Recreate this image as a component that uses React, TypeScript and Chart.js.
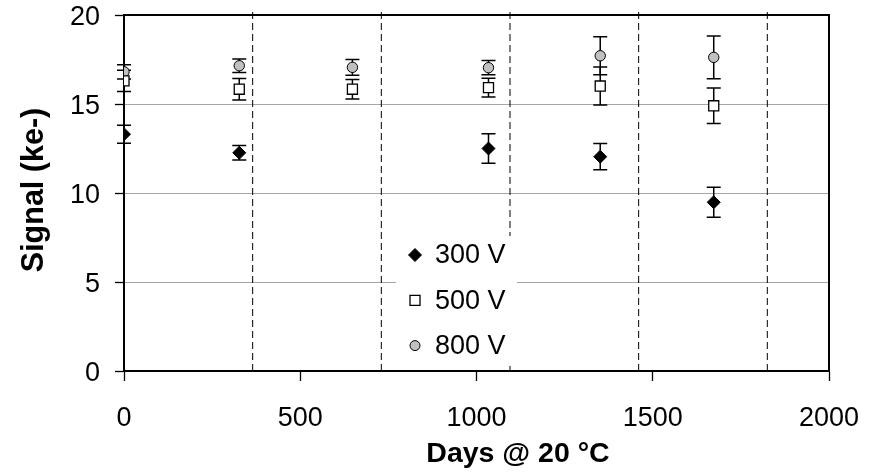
import { useEffect, useRef } from "react";
import { Chart, registerables } from "chart.js";

Chart.register(...registerables);

const days = [0, 327, 648, 1034, 1351, 1673];
const signal300 = [13.3, 12.26, null, 12.5, 12.04, 9.48];
const err300 = [0.5, 0.41, null, 0.83, 0.74, 0.84];
const signal500 = [16.3, 15.83, 15.83, 15.92, 16.01, 14.9];
const err500 = [0.6, 0.6, 0.55, 0.53, 1.07, 1.0];
const signal800 = [16.81, 17.15, 17.06, 17.04, 17.71, 17.62];
const err800 = [0.4, 0.38, 0.44, 0.4, 1.07, 1.2];
const yearMarks = [365, 730, 1095, 1460, 1825];
const seriesLabels = ["300 V", "500 V", "800 V"];
const xTitle = "Days @ 20 °C";
const yTitle = "Signal (ke-)";
const xRange = [0, 2000];
const yRange = [0, 20];
const markTop = 20.3;

const FONT = "'Liberation Sans', Arial, sans-serif";

function points(vals: (number | null)[], errs: (number | null)[]) {
  const pts: { x: number; y: number; e: number }[] = [];
  vals.forEach((v, i) => {
    if (v !== null && v !== undefined) pts.push({ x: days[i], y: v, e: errs[i] as number });
  });
  return pts;
}

function drawMarker(ctx: CanvasRenderingContext2D, style: string, x: number, y: number) {
  ctx.save();
  ctx.strokeStyle = "#000";
  ctx.beginPath();
  if (style === "rectRot") {
    const r = 6.5;
    ctx.moveTo(x, y - r);
    ctx.lineTo(x + r, y);
    ctx.lineTo(x, y + r);
    ctx.lineTo(x - r, y);
    ctx.closePath();
    ctx.fillStyle = "#000";
    ctx.lineWidth = 1;
    ctx.fill();
    ctx.stroke();
  } else if (style === "rect") {
    const s = 5;
    ctx.rect(x - s, y - s, 2 * s, 2 * s);
    ctx.fillStyle = "#fff";
    ctx.lineWidth = 1.3;
    ctx.fill();
    ctx.stroke();
  } else {
    ctx.arc(x, y, 5, 0, Math.PI * 2);
    ctx.fillStyle = "#c0c0c0";
    ctx.lineWidth = 1;
    ctx.fill();
    ctx.stroke();
  }
  ctx.restore();
}

const errorBarPlugin = {
  id: "errorBars",
  beforeDatasetsDraw(chart: any) {
    const { ctx, scales } = chart;
    const xs = scales.x;
    const ys = scales.y;
    ctx.save();
    ctx.strokeStyle = "#000";
    ctx.lineWidth = 1.5;
    chart.data.datasets.forEach((ds: any) => {
      if (!ds.isSeries) return;
      ds.data.forEach((p: any) => {
        if (!p.e) return;
        const px = xs.getPixelForValue(p.x);
        const top = ys.getPixelForValue(p.y + p.e);
        const bot = ys.getPixelForValue(p.y - p.e);
        ctx.beginPath();
        ctx.moveTo(px, top);
        ctx.lineTo(px, bot);
        ctx.moveTo(px - 7, top);
        ctx.lineTo(px + 7, top);
        ctx.moveTo(px - 7, bot);
        ctx.lineTo(px + 7, bot);
        ctx.stroke();
      });
    });
    ctx.restore();
  },
};

const frameLegendPlugin = {
  id: "frameLegend",
  afterDraw(chart: any) {
    const { ctx, chartArea } = chart;
    ctx.save();
    ctx.strokeStyle = "#000";
    ctx.lineWidth = 2;
    ctx.beginPath();
    ctx.moveTo(chartArea.left, chartArea.top);
    ctx.lineTo(chartArea.right, chartArea.top);
    ctx.lineTo(chartArea.right, chartArea.bottom);
    ctx.stroke();

    // axis titles
    ctx.fillStyle = "#000";
    ctx.textAlign = "center";
    ctx.textBaseline = "middle";
    ctx.font = `bold 28.5px ${FONT}`;
    ctx.fillText(xTitle, 518, 454);
    ctx.save();
    ctx.translate(35, 190);
    ctx.rotate(-Math.PI / 2);
    ctx.font = `bold 30.5px ${FONT}`;
    ctx.fillText(yTitle, 0, 0);
    ctx.restore();

    // legend box inside plot
    const bx = 396;
    const by = 236;
    const bw = 121;
    const bh = 130;
    ctx.fillStyle = "#fff";
    ctx.fillRect(bx, by, bw, bh);
    const styles = ["rectRot", "rect", "circle"];
    ctx.font = `27px ${FONT}`;
    ctx.textBaseline = "middle";
    ctx.textAlign = "left";
    seriesLabels.forEach((lab, i) => {
      const cy = 255 + i * 45.3;
      drawMarker(ctx, styles[i], 415, cy);
      ctx.fillStyle = "#000";
      ctx.fillText(lab, 435, cy + 1);
    });
    ctx.restore();
  },
};

export default function App() {
  const ref = useRef<HTMLCanvasElement | null>(null);

  useEffect(() => {
    if (!ref.current) return;
    const seriesDefs = [
      { label: seriesLabels[0], data: points(signal300, err300), pointStyle: "rectRot", pointRadius: 6.5, pointBackgroundColor: "#000", pointBorderWidth: 1 },
      { label: seriesLabels[1], data: points(signal500, err500), pointStyle: "rect", pointRadius: 7.1, pointBackgroundColor: "#fff", pointBorderWidth: 1.3 },
      { label: seriesLabels[2], data: points(signal800, err800), pointStyle: "circle", pointRadius: 5.2, pointBackgroundColor: "#c0c0c0", pointBorderWidth: 1 },
    ].map((d) => ({
      ...d,
      isSeries: true,
      showLine: false,
      pointBorderColor: "#000",
      pointHoverRadius: d.pointRadius,
    }));
    const markDefs = yearMarks.map((m) => ({
      label: "mark" + m,
      data: [
        { x: m, y: yRange[0] },
        { x: m, y: markTop },
      ],
      showLine: true,
      pointRadius: 0,
      borderColor: "#000",
      borderWidth: 1,
      borderDash: [7, 4],
      clip: false,
    }));

    const chart = new Chart(ref.current, {
      type: "scatter",
      data: { datasets: [...seriesDefs, ...markDefs] as any },
      plugins: [errorBarPlugin, frameLegendPlugin],
      options: {
        animation: false,
        responsive: false,
        layout: { padding: { top: 15, right: 53, bottom: 0, left: 0 } },
        plugins: { legend: { display: false }, tooltip: { enabled: false } },
        scales: {
          x: {
            type: "linear",
            min: xRange[0],
            max: xRange[1],
            ticks: { stepSize: 500, color: "#000", font: { family: FONT, size: 27, lineHeight: 1 }, padding: 24, maxRotation: 0, callback: (v: any) => String(v) },
            grid: { drawOnChartArea: false, tickLength: 10, tickColor: "#000", tickWidth: 1.3 },
            border: { display: true, color: "#000", width: 2 },
            title: { display: false },
            afterFit: (s: any) => {
              s.height = 102;
              s.paddingLeft = 0;
              s.paddingRight = 0;
            },
          },
          y: {
            type: "linear",
            min: yRange[0],
            max: yRange[1],
            ticks: { stepSize: 5, color: "#000", font: { family: FONT, size: 27, lineHeight: 1 }, padding: 15, labelOffset: 3, callback: (v: any) => String(v) },
            grid: {
              color: (c: any) => (c.tick && (c.tick.value === yRange[0] || c.tick.value === yRange[1]) ? "rgba(0,0,0,0)" : "#a6a6a6"),
              lineWidth: 1,
              tickLength: 9,
              tickColor: "#000",
              tickWidth: 1.3,
            },
            border: { display: true, color: "#000", width: 2 },
            title: { display: false },
            afterFit: (s: any) => {
              s.width = 124;
              s.paddingTop = 0;
              s.paddingBottom = 0;
            },
          },
        },
      } as any,
    });
    return () => chart.destroy();
  }, []);

  return (
    <div style={{ position: "absolute", left: 0, top: 0, width: 882, height: 473, background: "#fff" }}>
      <canvas ref={ref} width={882} height={473} style={{ display: "block" }} />
    </div>
  );
}
